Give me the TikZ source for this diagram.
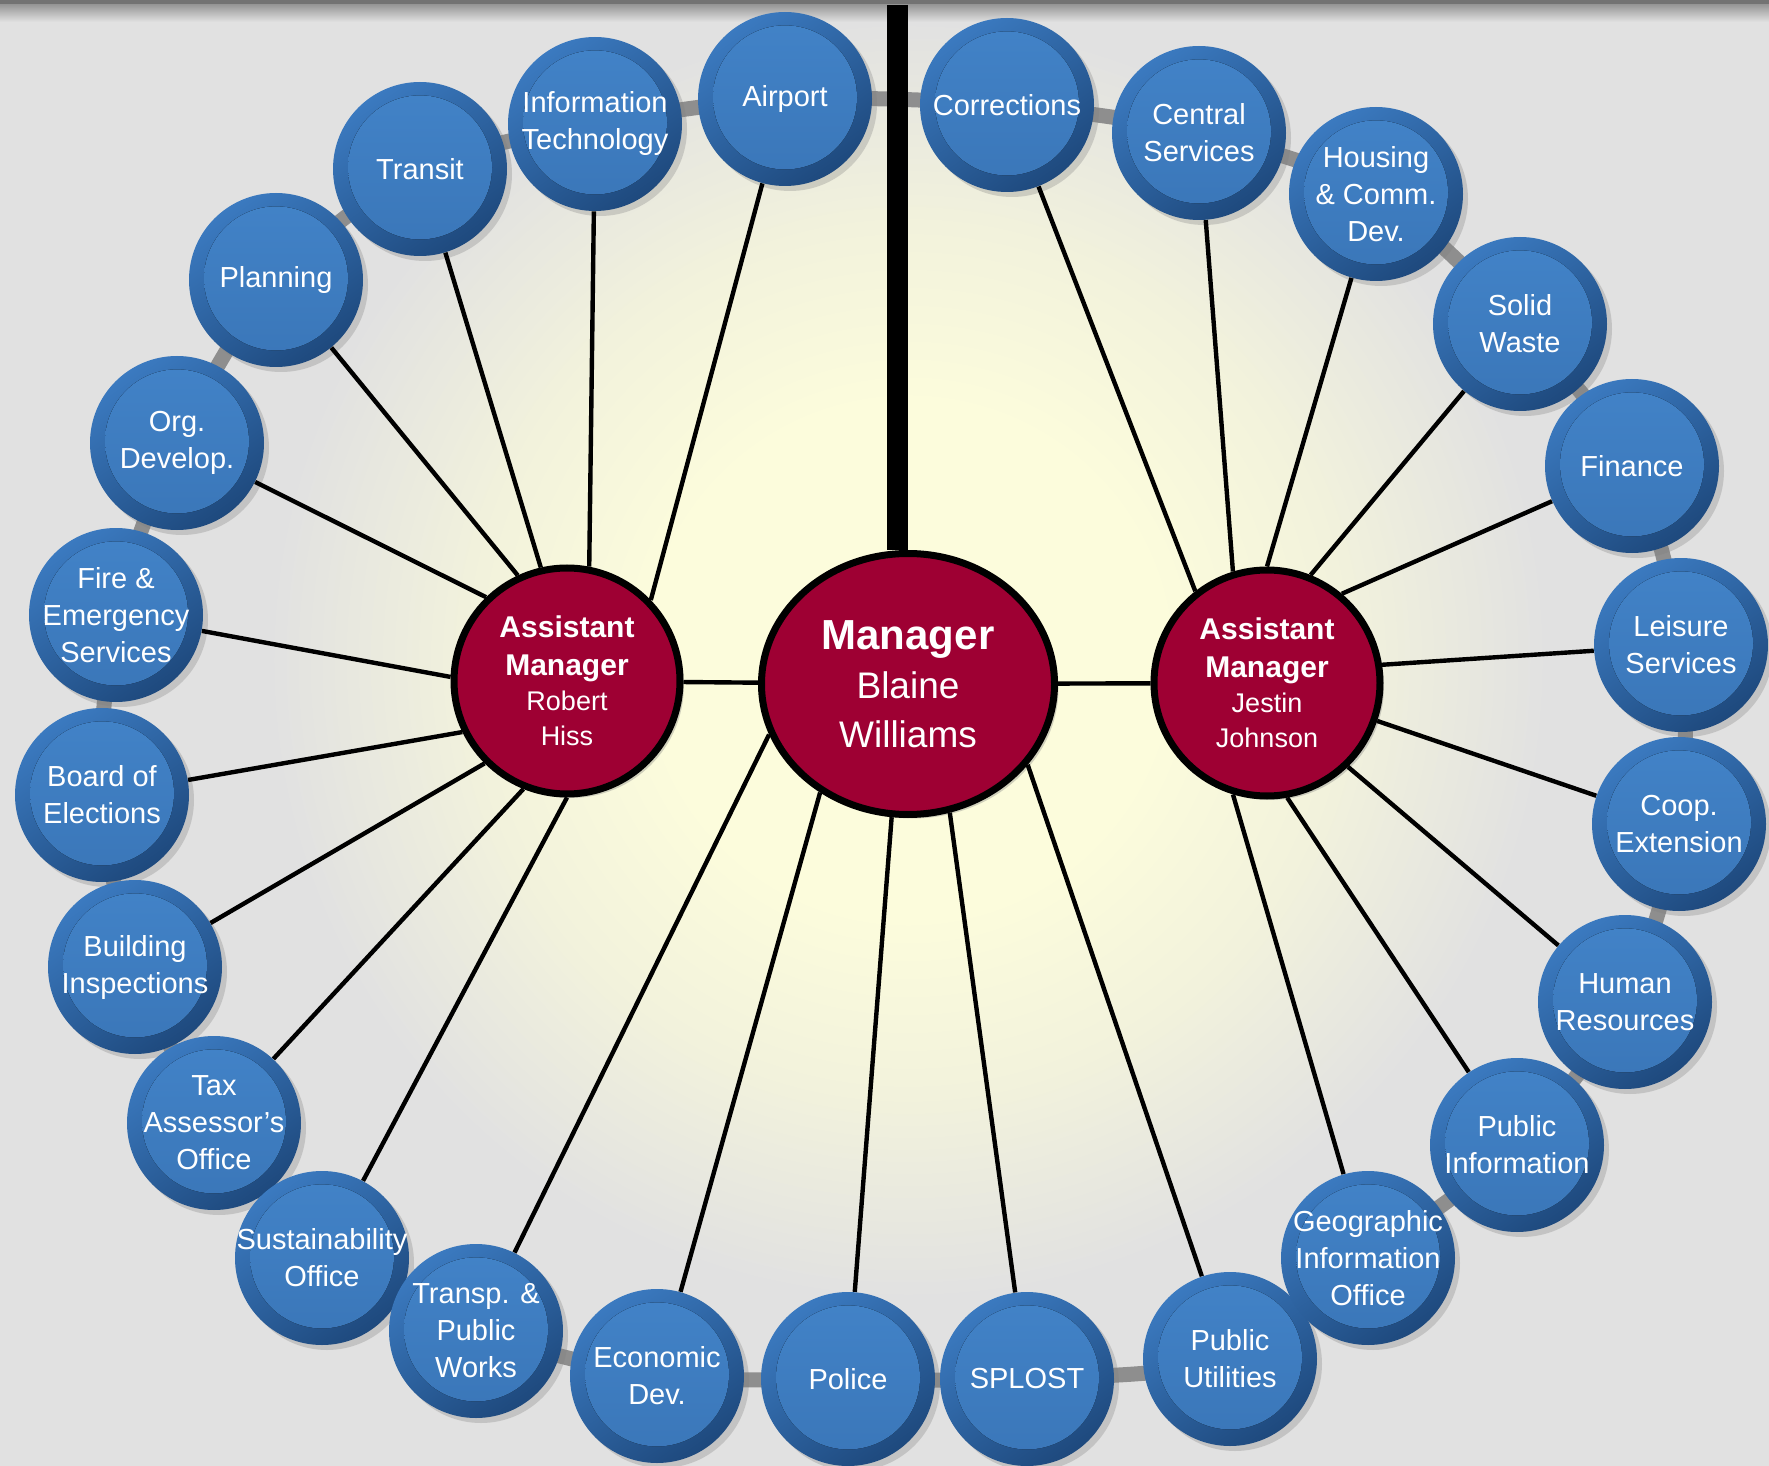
\documentclass[tikz,border=0pt]{standalone}
\usepackage{fontspec}
\setmainfont{Liberation Sans}
\usetikzlibrary{shapes.geometric,shadows}
\definecolor{bgc}{HTML}{E1E1E1}
\definecolor{glowc}{HTML}{FCFCDC}
\definecolor{glowmid}{HTML}{F2F2DC}
\definecolor{crimson}{HTML}{9E0033}
\definecolor{ringlt}{HTML}{3B7AC0}
\definecolor{ringdk}{HTML}{1E497D}
\definecolor{disclt}{HTML}{4283C8}
\definecolor{discdk}{HTML}{3A76B8}
\definecolor{ringgray}{HTML}{8E8E8E}
\pgfdeclareradialshading{glow}{\pgfpoint{0bp}{0bp}}{color(0bp)=(glowc); color(10bp)=(glowc); color(17bp)=(glowmid); color(25bp)=(bgc); color(50bp)=(bgc)}
\pgfdeclarelayer{back}
\pgfsetlayers{back,main}
\tikzset{
  dept/.style={circle, minimum size=87pt, inner sep=0pt, shading=axis,
    top color=ringlt, bottom color=ringdk, shading angle=35,
    drop shadow={opacity=0.3, shadow xshift=2.5pt, shadow yshift=-2.5pt},
    path picture={\fill[top color=disclt, bottom color=discdk]
      ([yshift=0.8pt]path picture bounding box.center) circle[radius=36pt];}},
  deptlabel/.style={text=white, align=center, inner sep=0pt,
    font=\fontsize{14.5}{18.5}\selectfont},
  boss/.style={ellipse, draw=black, line width=3.5pt, fill=crimson, text=white,
    align=center, inner sep=0pt, minimum width=146.5pt, minimum height=130.5pt,
    font=\fontsize{18.5}{24.5}\selectfont,
    drop shadow={opacity=0.35, shadow xshift=2pt, shadow yshift=-2pt}},
  asst/.style={circle, draw=black, line width=3.5pt, fill=crimson, text=white,
    align=center, inner sep=0pt, minimum size=113pt,
    font=\fontsize{15}{17.5}\selectfont,
    drop shadow={opacity=0.35, shadow xshift=2pt, shadow yshift=-2pt}},
  link/.style={line width=2.2pt},
  ring/.style={ringgray, line width=7.5pt},
  trunk/.style={line width=10.5pt}
}
\newcommand{\nm}[1]{{\fontsize{13.5}{17}\selectfont #1}}
\begin{document}
\begin{tikzpicture}[x=0.5pt, y=-0.5pt]
    \useasboundingbox (0,0) rectangle (1769,1466);
    \foreach \n/\x/\y/\t in {airport/785/99/Airport, infotech/595/124/{Information\\Technology},
      transit/420/169/Transit, planning/276/280/Planning, orgdev/177/443/{Org.\\Develop.},
      fire/116/615/{Fire \&\\Emergency\\Services}, elections/102/795/{Board of\\Elections},
      building/135/967/{Building\\Inspections}, taxoffice/214/1123/{Tax\\Assessor's\\Office},
      sustain/322/1258/{Sustainability\\Office}, transp/476/1331/{Transp. \&\\Public\\Works},
      econdev/657/1376/{Economic\\Dev.}, police/848/1379/Police, splost/1027/1379/SPLOST,
      utilities/1230/1359/{Public\\Utilities}, gis/1368/1258/{Geographic\\Information\\Office},
      pubinfo/1517/1145/{Public\\Information}, hr/1625/1002/{Human\\Resources},
      coop/1679/824/{Coop.\\Extension}, leisure/1681/645/{Leisure\\Services},
      finance/1632/466/Finance, solidwaste/1520/324/{Solid\\Waste},
      housing/1376/194/{Housing\\\& Comm.\\Dev.}, central/1199/133/{Central\\Services},
      corrections/1007/105/Corrections}
    \node [dept, label={[deptlabel]center:\t}] (\n) at (\x,\y) {};
    \node [boss] (mgr) at (908,684) {{\bfseries\fontsize{21}{24.5}\selectfont Manager}\\Blaine\\Williams};
    \node [asst] (asstL) at (567,681) {\textbf{Assistant}\\[1.5pt]\textbf{Manager}\\\nm{Robert}\\\nm{Hiss}};
    \node [asst] (asstR) at (1267,683) {\textbf{Assistant}\\[1.5pt]\textbf{Manager}\\\nm{Jestin}\\\nm{Johnson}};
    \begin{pgfonlayer}{back}
    \fill [bgc] (0,0) rectangle (1769,1466);
    \shade [shading=glow] (908,660) circle [radius=320pt];
    \fill [black!55] (0,0) rectangle (1769,5);
    \shade [top color=black!40, bottom color=bgc] (0,5) rectangle (1769,22);
    \draw [ring] plot [smooth cycle] coordinates {(airport.center) (infotech.center) (transit.center)
      (planning.center) (orgdev.center) (fire.center) (elections.center) (building.center)
      (taxoffice.center) (sustain.center) (transp.center) (econdev.center) (police.center)
      (splost.center) (utilities.center) (gis.center) (pubinfo.center) (hr.center) (coop.center)
      (leisure.center) (finance.center) (solidwaste.center) (housing.center) (central.center)
      (corrections.center)};
    \end{pgfonlayer}
    \foreach \d/\a in {airport/44, infotech/79, transit/103, planning/115, orgdev/134, fire/178,
      elections/206, building/225, taxoffice/248, sustain/270}
    \draw [link] (asstL.\a) -- (\d);
    \foreach \d/\a in {transp/200, econdev/231, police/263, splost/288, utilities/326}
    \draw [link] (mgr.\a) -- (\d);
    \foreach \d/\a in {corrections/128, central/107, housing/90, solidwaste/68, finance/50,
      leisure/9, coop/341, hr/314, pubinfo/280, gis/253}
    \draw [link] (asstR.\a) -- (\d);
    \draw [link] (asstL) -- (mgr);
    \draw [link] (mgr) -- (asstR);
    \coordinate (feed) at (897,5);
    \draw [trunk] (feed) -- (feed |- mgr.north);
\end{tikzpicture}
\end{document}
